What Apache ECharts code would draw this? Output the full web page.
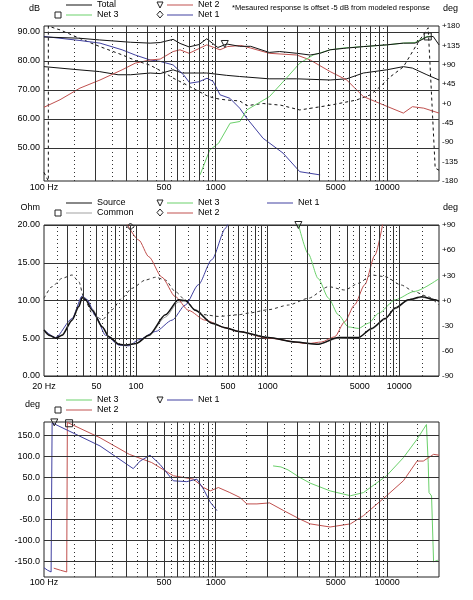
<!DOCTYPE html>
<html>
<head>
<meta charset="utf-8">
<script src="https://cdn.jsdelivr.net/npm/echarts@6.0.0/dist/echarts.min.js"></script>
<style>
	html, body { margin: 0; padding: 0; background: #fff; }
	#chart { width: 473px; height: 600px; }
</style>
</head>
<body>
<div id="chart"></div>
<script>
'use strict';

// ---- top panel: SPL (dB) and phase (deg) ----
var topFreqLabels = [100, 500, 1000, 5000, 10000];
var dbTicks = [50, 60, 70, 80, 90];

var totalFreq = [100, 160, 210, 320, 415, 475, 565, 620, 700, 800, 887, 960, 1030, 1160, 1380, 1600, 2050, 2360, 2970, 3550, 4060, 4640, 5800, 7250, 9900, 12400, 14500, 17000, 18500, 20000];
var totalDb   = [88.2, 87.8, 87.2, 86.4, 86.1, 86.3, 87.4, 86.0, 84.8, 85.6, 87.6, 86.0, 84.6, 85.8, 85.0, 85.0, 82.9, 83.2, 82.6, 82.0, 82.6, 83.8, 84.4, 84.9, 85.5, 86.1, 86.1, 88.2, 88.4, 85.5];

var measuredFreq = [100, 160, 210, 270, 320, 415, 475, 565, 640, 790, 887, 1160, 1380, 2050, 2970, 4640, 5800, 7250, 9900, 12400, 14000, 17000, 20000];
var measuredDb   = [78.0, 76.9, 76.3, 75.2, 75.2, 75.8, 75.6, 76.9, 75.8, 75.8, 75.8, 75.0, 74.6, 73.8, 73.8, 73.4, 73.8, 75.8, 76.9, 78.0, 77.5, 75.2, 73.4];

var totalPhaseFreq = [100, 106, 106, 115, 124, 162, 212, 285, 340, 415, 510, 565, 650, 780, 890, 970, 1060, 1170, 1380, 1520, 1890, 2400, 3090, 4640, 6600, 7950, 9080, 10400, 12400, 15000, 17300, 19000, 20000];
var totalPhaseDeg  = [-160, -180, 180, 175, 171, 151, 132, 113, 100, 89, 70, 59, 47, 30, 18, 13, 10, 8, 6, -5, 0, -4, -15, -4, 8, 20, 39, 62, 85, 140, 176, -150, -155];

var net2TopFreq = [100, 124, 162, 212, 285, 340, 415, 475, 565, 620, 700, 887, 967, 1060, 1170, 1400, 1600, 2050, 2970, 3550, 4640, 5800, 7250, 9500, 12400, 14000, 16300, 20000];
var net2TopDb   = [64.0, 66.6, 70.6, 73.4, 76.9, 79.2, 80.3, 80.6, 83.2, 83.8, 82.6, 85.5, 84.7, 83.8, 84.9, 85.3, 84.4, 82.6, 82.0, 80.3, 76.3, 73.4, 67.7, 64.8, 62.0, 64.2, 63.7, 62.0];

var net1TopFreq = [100, 162, 212, 285, 340, 415, 475, 565, 650, 708, 800, 890, 967, 1060, 1210, 1380, 1520, 1890, 2470, 3090, 4060];
var net1TopDb   = [88.4, 87.0, 86.1, 83.8, 82.0, 80.3, 79.8, 78.6, 75.2, 72.3, 72.8, 74.0, 72.9, 68.3, 67.1, 63.7, 60.2, 53.3, 48.2, 41.8, 40.7];

var net3TopFreq = [811, 924, 1040, 1213, 1384, 1520, 2060, 2580, 3090, 3700, 4640, 5500, 9900, 12400, 14500, 17000, 18000];
var net3TopDb   = [40.7, 49.3, 51.6, 58.5, 59.1, 63.1, 67.7, 74.0, 79.2, 82.0, 83.8, 84.4, 85.5, 86.1, 86.3, 88.4, 88.4];

// ---- middle panel: impedance (Ohm) and phase (deg) ----
var midFreqLabels = [20, 50, 100, 500, 1000, 5000, 10000];

var sourceFreq = [20, 22, 24.5, 27.5, 32.7, 36.8, 39, 41.4, 46.5, 55.4, 62.2, 74.5, 84, 100, 125, 167, 210, 237, 282, 376, 474, 600, 1010, 1620, 2420, 3440, 4890, 6160, 7800, 9300, 11700, 14800, 18700, 20000];
var sourceOhm  = [6.1, 5.4, 5.0, 5.4, 7.4, 9.2, 10.4, 10.1, 8.7, 6.5, 5.2, 4.2, 4.1, 4.3, 5.4, 8.1, 10.1, 10.0, 8.7, 7.0, 6.4, 5.9, 5.1, 4.5, 4.2, 5.1, 5.1, 6.3, 7.6, 9.0, 10.1, 10.5, 10.1, 9.9];
var commonOhm  = [6.0, 5.3, 5.0, 5.5, 7.6, 9.5, 10.6, 10.3, 8.9, 6.6, 5.2, 4.1, 4.0, 4.3, 5.3, 7.8, 9.8, 9.9, 8.8, 7.1, 6.4, 5.9, 5.1, 4.5, 4.2, 5.0, 5.1, 6.2, 7.5, 8.9, 10.0, 10.4, 10.1, 9.9];

var sourcePhaseFreq = [20, 23, 27.5, 32.7, 36.8, 40, 46.5, 55.4, 65.5, 78, 93, 118, 141, 167, 199, 237, 282, 334, 421, 600, 718, 1010, 1440, 2030, 2900, 3850, 4890, 6160, 7800, 10300, 13000, 16500, 20000];
var sourcePhaseDeg  = [2.6, 16.5, 26.5, 30.4, 22.4, 4.5, -15.3, -23, -11, 2.6, 14.5, 24.4, 27.7, 24.4, 10.5, 0.6, -11.3, -17, -19, -17, -15, -11, -5.4, 2.6, 16.5, 12.5, 20.5, 30.4, 28.4, 18.5, 10.5, 4.5, -5.4];

var net1MidFreq = [20, 24.5, 32.7, 39, 42.5, 49.5, 58.6, 74.5, 88, 105, 141, 188, 237, 298, 376, 480, 510];
var net1MidOhm  = [6.1, 5.1, 7.6, 10.6, 10.1, 7.9, 5.4, 4.1, 4.0, 4.8, 5.9, 7.4, 9.4, 12.1, 15.4, 19.6, 20.6];

var net2MidFreq = [85, 105, 125, 157, 199, 250, 334, 474, 600, 1010, 2030, 2560, 3230, 3850, 4560, 5460, 6520, 7500];
var net2MidOhm  = [20.2, 18.0, 15.8, 13.1, 10.5, 8.7, 7.4, 6.4, 5.9, 5.0, 4.3, 4.5, 5.2, 7.2, 9.4, 12.1, 16.0, 20.3];

var net3MidFreq = [1710, 2030, 2420, 2900, 3440, 4100, 4890, 5830, 6950, 9300, 13000, 20000];
var net3MidOhm  = [20.1, 16.2, 12.9, 10.3, 8.1, 6.5, 6.3, 7.0, 8.3, 10.1, 11.2, 12.9];

// ---- bottom panel: driver phase (deg) ----
var botPhaseTicks = [-150, -100, -50, 0, 50, 100, 150];

var net1BotFreq = [100, 105, 110, 111.5, 111.5, 114, 212, 331, 363, 415, 474, 567, 679, 777, 850, 930, 1018];
var net1BotDeg  = [-166, -172, -176, -178, 179, 177, 124, 70, 88, 102, 80, 41, 39, 45, 21, -10, -30];

var net2BotFreq = [114, 125, 135.6, 136.8, 136.8, 140, 212, 314, 424, 567, 742, 850, 930, 1037, 1210, 1384, 1520, 1740, 2060, 2490, 3090, 3550, 4640, 6100, 7260, 9900, 12400, 14900, 16200, 18600, 20000];
var net2BotDeg  = [-167, -172, -176, -178, 180, 178, 143.5, 104, 84.5, 53, 45, 25, 17, 25, 13, 1.4, -14, -14, -11.6, -30, -50, -61.5, -69, -61.5, -42, 5.4, 41, 88, 88, 104, 102];

var net3BotFreq = [2160, 2400, 2640, 3090, 3550, 4640, 6100, 7260, 9900, 12400, 14900, 16900, 17300, 17500, 18100, 18600, 18900, 19700];
var net3BotDeg  = [76.5, 74, 67, 49, 35.5, 17, 5.4, 13, 53, 96, 140, 175, 84, 13, 5, -152, -156, -148];

var FONT = '"Liberation Sans", Arial, sans-serif';
var BLACK = '#111';
var RED = '#c0504e';
var BLUE = '#4040a0';
var GREEN = '#6ad06a';
var GRAY = '#a0a0a0';

function pairs(xs, ys) {
	return xs.map(function (x, i) { return [x, ys[i]]; });
}

// solid lines at 1..9 x decade, dotted at the half steps
function vLines(min, max) {
	var out = [];
	for (var d = 1; d <= 10000; d *= 10) {
		for (var k = 1; k < 10; k += 0.5) {
			var v = k * d;
			if (v > min && v < max) {
				out.push({ xAxis: v, lineStyle: { type: (k % 1) ? [1, 3] : 'solid', color: '#333', width: 1 } });
			}
		}
	}
	return out;
}

function gridSeries(xi, yi, min, max, hvals) {
	return {
		type: 'line', name: 'grid' + xi, xAxisIndex: xi, yAxisIndex: yi, data: [],
		silent: true, z: 1, animation: false,
		markLine: {
			silent: true, symbol: ['none', 'none'], animation: false,
			label: { show: false }, emphasis: { disabled: true },
			lineStyle: { color: '#333', width: 1, type: 'solid' },
			data: vLines(min, max).concat(hvals.map(function (v) { return { yAxis: v }; }))
		}
	};
}

function curve(name, xi, yi, data, color, extra) {
	var s = {
		type: 'line', name: name, xAxisIndex: xi, yAxisIndex: yi, data: data,
		showSymbol: false, symbol: 'none', color: color,
		lineStyle: { color: color, width: 1 },
		z: 3, animation: false, emphasis: { disabled: true },
		smooth: 0.25, smoothMonotone: 'x'
	};
	for (var k in extra) s[k] = extra[k];
	return s;
}

function marker(symbol, coord, rotate) {
	return {
		silent: true, animation: false, symbol: symbol, symbolSize: 7, symbolRotate: rotate || 0,
		itemStyle: { color: 'rgba(0,0,0,0)', borderColor: '#222', borderWidth: 1 },
		label: { show: false }, data: [{ coord: coord }]
	};
}

function legendItem(name, left, top) {
	return {
		data: [name], left: left, top: top, padding: 0, icon: 'rect',
		itemWidth: 26, itemHeight: 1, selectedMode: false,
		textStyle: { fontSize: 9, fontFamily: FONT, color: '#000', lineHeight: 10 }
	};
}

function freqAxis(gridIndex, min, max, labels, margin) {
	return {
		type: 'log', logBase: 10, gridIndex: gridIndex, min: min, max: max,
		axisLine: { show: false }, axisTick: { show: false },
		splitLine: { show: false }, minorSplitLine: { show: false },
		axisLabel: {
			customValues: labels, margin: margin, fontSize: 9, fontFamily: FONT, color: '#000',
			formatter: function (v) { return v === labels[0] ? v + ' Hz' : String(v); }
		}
	};
}

function signed(v) { return v > 0 ? '+' + v : (v === 0 ? '+0' : String(v)); }

function valueAxis(gridIndex, pos, min, max, opts) {
	var a = {
		type: 'value', gridIndex: gridIndex, position: pos, min: min, max: max,
		axisLine: { show: false }, axisTick: { show: false }, splitLine: { show: false },
		nameLocation: 'end', nameGap: 17,
		nameTextStyle: {
			fontSize: 9, fontFamily: FONT, color: '#000', verticalAlign: 'middle',
			align: pos === 'left' ? 'right' : 'left',
			padding: pos === 'left' ? [0, 4, 0, 0] : [0, 0, 0, 4]
		},
		axisLabel: { fontSize: 9, fontFamily: FONT, color: '#000', margin: pos === 'left' ? 4 : 3 }
	};
	for (var k in opts) {
		if (k === 'axisLabel') {
			for (var j in opts.axisLabel) a.axisLabel[j] = opts.axisLabel[j];
		} else {
			a[k] = opts[k];
		}
	}
	return a;
}

var chart = echarts.init(document.getElementById('chart'), null, { renderer: 'canvas' });

var option = {
	backgroundColor: '#fff',
	animation: false,
	textStyle: { fontFamily: FONT },
	grid: [
		{ left: 44, right: 34, top: 26, height: 155, show: true, borderColor: '#222', borderWidth: 1, backgroundColor: 'transparent' },
		{ left: 44, right: 34, top: 225, height: 151, show: true, borderColor: '#222', borderWidth: 1, backgroundColor: 'transparent' },
		{ left: 44, right: 34, top: 422, height: 155, show: true, borderColor: '#222', borderWidth: 1, backgroundColor: 'transparent' }
	],
	xAxis: [
		freqAxis(0, 100, 20000, topFreqLabels, 2),
		freqAxis(1, 20, 20000, midFreqLabels, 6),
		freqAxis(2, 100, 20000, topFreqLabels, 1)
	],
	yAxis: [
		valueAxis(0, 'left', 38.6, 92, {
			name: 'dB',
			axisLabel: { customValues: dbTicks, formatter: function (v) { return v.toFixed(2); } }
		}),
		valueAxis(0, 'right', -180, 180, {
			name: 'deg', interval: 45,
			axisLabel: { fontSize: 8, formatter: signed }
		}),
		valueAxis(1, 'left', 0, 20, {
			name: 'Ohm', interval: 5,
			splitLine: { show: true, lineStyle: { color: '#333', width: 1 } },
			axisLabel: { formatter: function (v) { return v.toFixed(2); } }
		}),
		valueAxis(1, 'right', -90, 90, {
			name: 'deg', interval: 30,
			axisLabel: { fontSize: 8, formatter: signed }
		}),
		valueAxis(2, 'left', -188, 181, {
			name: 'deg',
			axisLabel: { customValues: botPhaseTicks, formatter: function (v) { return v.toFixed(1); } }
		})
	],
	legend: [
		legendItem('Total', 66, 0),
		legendItem('Net 3', 66, 10),
		legendItem('Net 2', 167, 0),
		legendItem('Net 1', 167, 10),

		legendItem('Source', 66, 198),
		legendItem('Common', 66, 208),
		legendItem('Net 3', 167, 198),
		legendItem('Net 2', 167, 208),
		legendItem('Net 1', 267, 198),

		legendItem('Net 3', 66, 395),
		legendItem('Net 2', 66, 405),
		legendItem('Net 1', 167, 395)
	],
	graphic: [
		{ type: 'text', left: 232, top: 4, silent: true,
			style: { text: '*Mesaured response is offset -5 dB from modeled response', font: '7.5px ' + FONT, fill: '#000' } },
		// legend cursor symbols
		{ type: 'rect', shape: { x: 55, y: 12, width: 6, height: 6 }, style: { fill: 'none', stroke: '#222', lineWidth: 1 } },
		{ type: 'polygon', shape: { points: [[157, 2], [163, 2], [160, 8]] }, style: { fill: 'none', stroke: '#222', lineWidth: 1 } },
		{ type: 'polygon', shape: { points: [[160, 11], [163, 14.5], [160, 18], [157, 14.5]] }, style: { fill: 'none', stroke: '#222', lineWidth: 1 } },

		{ type: 'rect', shape: { x: 55, y: 210, width: 6, height: 6 }, style: { fill: 'none', stroke: '#222', lineWidth: 1 } },
		{ type: 'polygon', shape: { points: [[157, 200], [163, 200], [160, 206]] }, style: { fill: 'none', stroke: '#222', lineWidth: 1 } },
		{ type: 'polygon', shape: { points: [[160, 209], [163, 212.5], [160, 216], [157, 212.5]] }, style: { fill: 'none', stroke: '#222', lineWidth: 1 } },

		{ type: 'rect', shape: { x: 55, y: 407, width: 6, height: 6 }, style: { fill: 'none', stroke: '#222', lineWidth: 1 } },
		{ type: 'polygon', shape: { points: [[157, 397], [163, 397], [160, 403]] }, style: { fill: 'none', stroke: '#222', lineWidth: 1 } }
	],
	series: [
		gridSeries(0, 0, 100, 20000, dbTicks),
		gridSeries(1, 2, 20, 20000, []),
		gridSeries(2, 4, 100, 20000, botPhaseTicks),

		// top
		curve('Measured', 0, 0, pairs(measuredFreq, measuredDb), BLACK, { smooth: false }),
		curve('Total phase', 0, 1, pairs(totalPhaseFreq, totalPhaseDeg), BLACK, { smooth: false, lineStyle: { color: BLACK, width: 1, type: [3, 3] } }),
		curve('Net 1', 0, 0, pairs(net1TopFreq, net1TopDb), BLUE, { smooth: false }),
		curve('Net 2', 0, 0, pairs(net2TopFreq, net2TopDb), RED, { smooth: false, markPoint: marker('triangle', [1130, 85.8], 180) }),
		curve('Net 3', 0, 0, pairs(net3TopFreq, net3TopDb), GREEN, { smooth: false, markPoint: marker('rect', [17200, 88.4]) }),
		curve('Total', 0, 0, pairs(totalFreq, totalDb), BLACK, { smooth: false }),

		// middle
		curve('Source phase', 1, 3, pairs(sourcePhaseFreq, sourcePhaseDeg), '#333', { lineStyle: { color: '#333', width: 1, type: [3, 3] } }),
		curve('Common', 1, 2, pairs(sourceFreq, commonOhm), GRAY),
		curve('Net 1', 1, 2, pairs(net1MidFreq, net1MidOhm), BLUE),
		curve('Net 2', 1, 2, pairs(net2MidFreq, net2MidOhm), RED, { markPoint: marker('diamond', [90.7, 19.8]) }),
		curve('Net 3', 1, 2, pairs(net3MidFreq, net3MidOhm), GREEN, { markPoint: marker('triangle', [1710, 20], 180) }),
		curve('Source', 1, 2, pairs(sourceFreq, sourceOhm), BLACK, { lineStyle: { color: BLACK, width: 1.5 } }),

		// bottom
		curve('Net 3', 2, 4, pairs(net3BotFreq, net3BotDeg), GREEN, { smooth: false }),
		curve('Net 2', 2, 4, pairs(net2BotFreq, net2BotDeg), RED, { smooth: false, markPoint: marker('rect', [140, 178]) }),
		curve('Net 1', 2, 4, pairs(net1BotFreq, net1BotDeg), BLUE, { smooth: false, markPoint: marker('triangle', [114.8, 180], 180) })
	]
};

chart.setOption(option);
</script>
</body>
</html>
